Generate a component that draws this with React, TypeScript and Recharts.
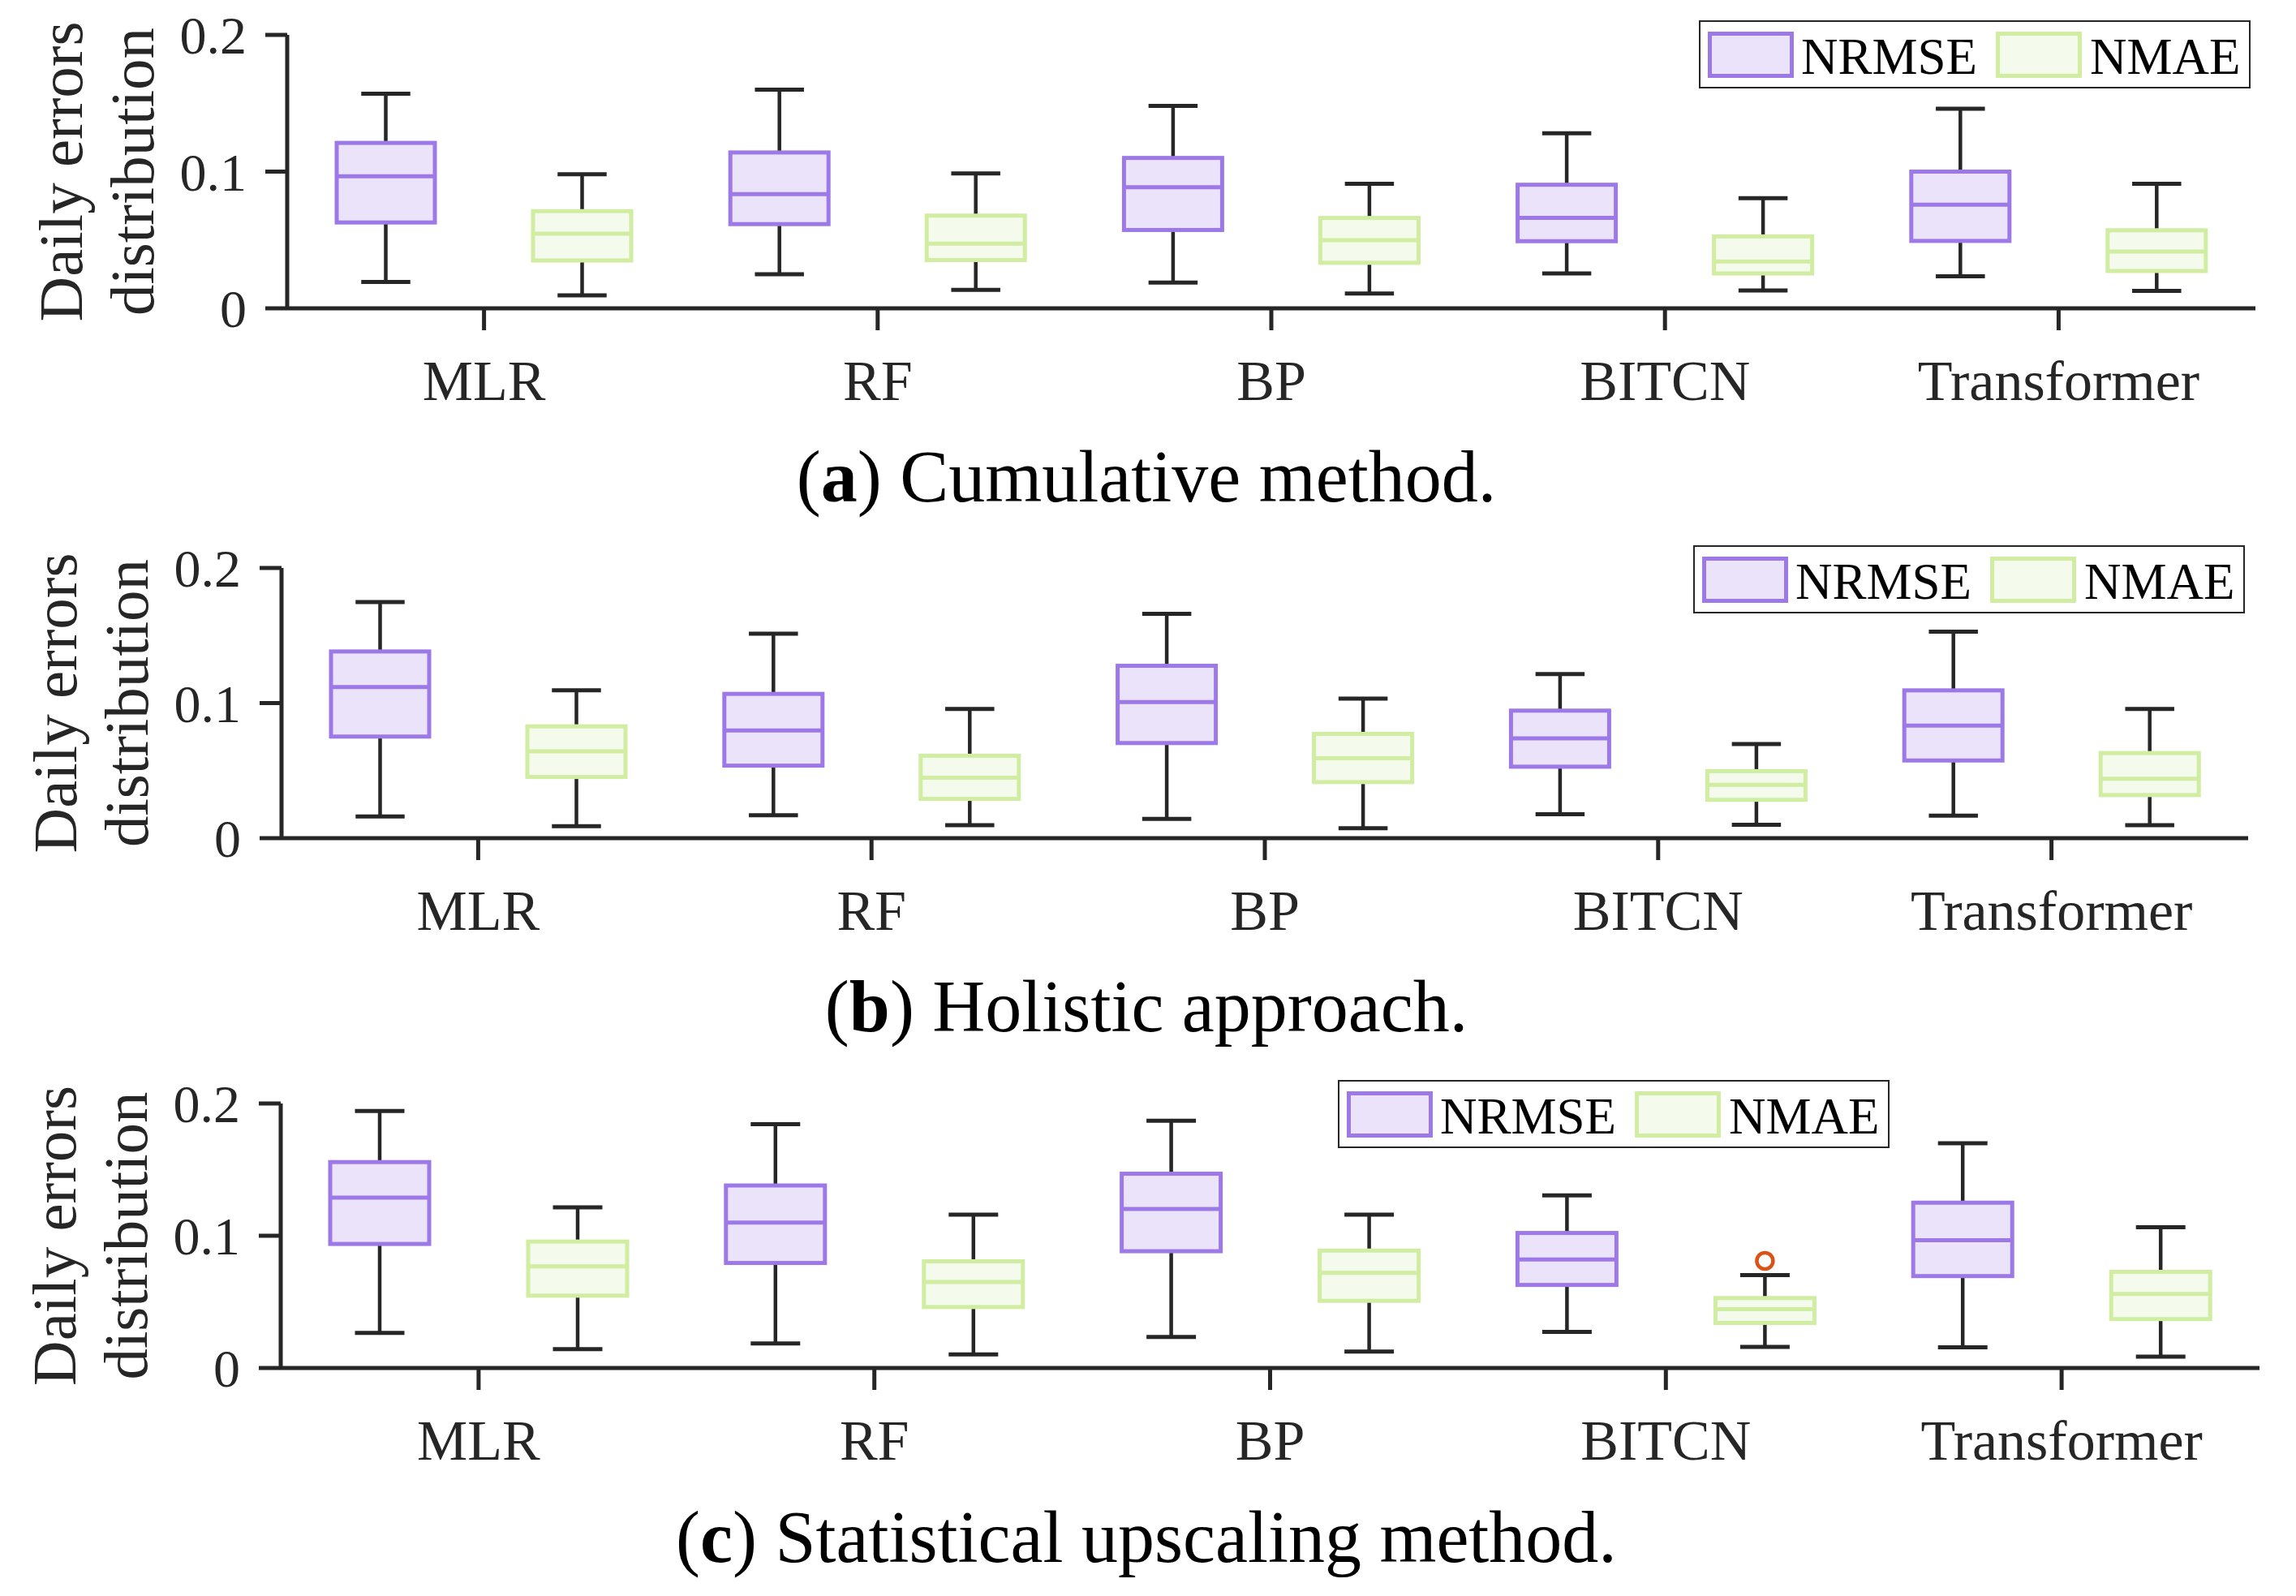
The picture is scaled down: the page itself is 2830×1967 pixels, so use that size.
import React from "react";
import { BarChart, Bar, XAxis, YAxis, Legend } from "recharts";

const categories = ["MLR", "RF", "BP", "BITCN", "Transformer"];
const yTicks = [0, 0.1, 0.2];

// each box: [min, q1, median, q3, max]
const cumulativeNrmse = [
  [0.0193, 0.0628, 0.0966, 0.121, 0.157],
  [0.025, 0.0616, 0.0836, 0.114, 0.16],
  [0.0188, 0.0573, 0.0886, 0.11, 0.148],
  [0.0255, 0.0491, 0.0661, 0.0904, 0.128],
  [0.0235, 0.0493, 0.0758, 0.1, 0.146],
];
const cumulativeNmae = [
  [0.0095, 0.035, 0.0546, 0.0711, 0.0981],
  [0.0135, 0.0353, 0.0473, 0.0678, 0.0986],
  [0.0108, 0.0333, 0.0498, 0.0661, 0.0911],
  [0.013, 0.0255, 0.0343, 0.0526, 0.0806],
  [0.0128, 0.0273, 0.0416, 0.0571, 0.0911],
];

const holisticNrmse = [
  [0.016, 0.0752, 0.1119, 0.1382, 0.1747],
  [0.017, 0.0537, 0.0797, 0.1068, 0.1514],
  [0.0142, 0.0704, 0.1008, 0.1276, 0.1661],
  [0.0177, 0.0529, 0.0739, 0.0944, 0.1215],
  [0.0167, 0.0575, 0.0833, 0.1094, 0.1529],
];
const holisticNmae = [
  [0.0089, 0.0453, 0.0643, 0.0828, 0.1094],
  [0.0096, 0.0291, 0.0448, 0.061, 0.0957],
  [0.0073, 0.0415, 0.0592, 0.0772, 0.1033],
  [0.0099, 0.0284, 0.0395, 0.0496, 0.0696],
  [0.0096, 0.0319, 0.044, 0.063, 0.0957],
];

const statisticalNrmse = [
  [0.0266, 0.0938, 0.1289, 0.1557, 0.1943],
  [0.0185, 0.0794, 0.11, 0.138, 0.1844],
  [0.0234, 0.0883, 0.1203, 0.1469, 0.187],
  [0.0273, 0.0628, 0.082, 0.1021, 0.1305],
  [0.0156, 0.0695, 0.0966, 0.125, 0.17],
];
const statisticalNmae = [
  [0.0143, 0.0547, 0.0768, 0.0956, 0.1214],
  [0.0102, 0.0461, 0.0651, 0.0807, 0.1159],
  [0.0125, 0.0508, 0.0719, 0.0888, 0.1159],
  [0.0159, 0.0341, 0.0445, 0.0529, 0.0703],
  [0.0086, 0.037, 0.056, 0.0727, 0.1065],
];
const statisticalNmaeOutliers = [[], [], [], [0.081], []];
const noOutliers = [[], [], [], [], []];

const INK = "#262626";
const SERIF = "'Liberation Serif', 'Times New Roman', serif";
const PAGE_W = 2830;
const TOP_PAD = 43;
const X_AXIS_H = 150;

const SERIES = [
  { key: "nrmse", name: "NRMSE", stroke: "#9d79e8", fill: "#ebe3fa" },
  { key: "nmae", name: "NMAE", stroke: "#d0eda2", fill: "#f4faec" },
];

const PANELS = [
  {
    id: "a",
    nrmse: cumulativeNrmse,
    nmae: cumulativeNmae,
    nmaeOut: noOutliers,
    plotTop: 43,
    plotBottom: 380,
    axisX: 354,
    plotRight: 2780,
    legendLeft: 2094,
    legendTop: 25,
    tag: "a",
    caption: " Cumulative method.",
    captionY: 618,
  },
  {
    id: "b",
    nrmse: holisticNrmse,
    nmae: holisticNmae,
    nmaeOut: noOutliers,
    plotTop: 700,
    plotBottom: 1033,
    axisX: 347,
    plotRight: 2771,
    legendLeft: 2087,
    legendTop: 672,
    tag: "b",
    caption: " Holistic approach.",
    captionY: 1271,
  },
  {
    id: "c",
    nrmse: statisticalNrmse,
    nmae: statisticalNmae,
    nmaeOut: statisticalNmaeOutliers,
    plotTop: 1360,
    plotBottom: 1686,
    axisX: 346,
    plotRight: 2785,
    legendLeft: 1649,
    legendTop: 1331,
    tag: "c",
    caption: " Statistical upscaling method.",
    captionY: 1925,
  },
];

function BoxShape(props: any) {
  const { x, y, width, height, payload, seriesKey, stroke, fill } = props;
  const stats: number[] = payload[seriesKey];
  const outliers: number[] = payload[seriesKey + "Out"] || [];
  const lo = stats[0];
  const hi = stats[4];
  const top = Math.min(y, y + height);
  const bottom = Math.max(y, y + height);
  // pixel position from the bar's own scaled extent (min..max)
  const py = (v: number) => bottom - ((v - lo) / (hi - lo)) * (bottom - top);
  const cx = x + width / 2;
  const cap = width / 4;
  const q1 = py(stats[1]);
  const med = py(stats[2]);
  const q3 = py(stats[3]);
  return (
    <g>
      <line x1={cx} x2={cx} y1={py(hi)} y2={q3} stroke={INK} strokeWidth={4.5} />
      <line x1={cx} x2={cx} y1={q1} y2={py(lo)} stroke={INK} strokeWidth={4.5} />
      <line x1={cx - cap} x2={cx + cap} y1={py(hi)} y2={py(hi)} stroke={INK} strokeWidth={5} />
      <line x1={cx - cap} x2={cx + cap} y1={py(lo)} y2={py(lo)} stroke={INK} strokeWidth={5} />
      <rect x={x} y={q3} width={width} height={q1 - q3} fill={fill} stroke={stroke} strokeWidth={5} />
      <line x1={x} x2={x + width} y1={med} y2={med} stroke={stroke} strokeWidth={5} />
      {outliers.map((o, i) => (
        <circle key={i} cx={cx} cy={py(o)} r={10} fill="none" stroke="#d95319" strokeWidth={4.5} />
      ))}
    </g>
  );
}

function YLabel({ axisX, cy }: { axisX: number; cy: number }) {
  const style = { fontFamily: SERIF, fontSize: 77, fill: INK };
  return (
    <g>
      <text transform={`translate(${axisX - 253},${cy}) rotate(-90)`} textAnchor="middle" style={style}>
        Daily errors
      </text>
      <text transform={`translate(${axisX - 165},${cy}) rotate(-90)`} textAnchor="middle" style={style}>
        distribution
      </text>
    </g>
  );
}

function LegendBox() {
  const slots = [
    { swatch: 11, text: 126 },
    { swatch: 366, text: 482 },
  ];
  return (
    <div
      style={{
        position: "relative",
        width: 680,
        height: 84,
        boxSizing: "border-box",
        border: `2px solid ${INK}`,
        background: "#fff",
      }}
    >
      {SERIES.map((s, i) => (
        <React.Fragment key={s.key}>
          <div
            style={{
              position: "absolute",
              left: slots[i].swatch - 2,
              top: 12,
              width: 106,
              height: 57,
              boxSizing: "border-box",
              border: `5px solid ${s.stroke}`,
              background: s.fill,
            }}
          />
          <div
            style={{
              position: "absolute",
              left: slots[i].text - 2,
              top: 12,
              fontFamily: SERIF,
              fontSize: 63,
              lineHeight: "63px",
              color: "#000",
              whiteSpace: "nowrap",
            }}
          >
            {s.name}
          </div>
        </React.Fragment>
      ))}
    </div>
  );
}

function Panel({ p }: { p: (typeof PANELS)[number] }) {
  const rows = categories.map((name, i) => ({
    name,
    nrmse: p.nrmse[i],
    nmae: p.nmae[i],
    nmaeOut: p.nmaeOut[i],
  }));
  const plotH = p.plotBottom - p.plotTop;
  const chartH = TOP_PAD + plotH + X_AXIS_H;
  const band = (p.plotRight - p.axisX) / categories.length;
  const barSize = Math.round(band / 4);
  const chartTop = p.plotTop - TOP_PAD;
  return (
    <div style={{ position: "absolute", left: 0, top: chartTop, width: PAGE_W, height: chartH }}>
      <BarChart
        width={PAGE_W}
        height={chartH}
        data={rows}
        margin={{ top: TOP_PAD, right: PAGE_W - p.plotRight, bottom: 0, left: 0 }}
        barSize={barSize}
        barGap={barSize}
      >
        <XAxis
          dataKey="name"
          height={X_AXIS_H}
          interval={0}
          tickSize={27}
          tickMargin={36}
          axisLine={{ stroke: INK, strokeWidth: 5 }}
          tickLine={{ stroke: INK, strokeWidth: 5 }}
          tick={{ fontFamily: SERIF, fontSize: 70, fill: INK }}
        />
        <YAxis
          type="number"
          domain={[0, 0.2]}
          ticks={yTicks}
          width={p.axisX}
          tickSize={27}
          tickMargin={23}
          tickFormatter={(v) => String(v)}
          axisLine={{ stroke: INK, strokeWidth: 5 }}
          tickLine={{ stroke: INK, strokeWidth: 5 }}
          tick={{ fontFamily: SERIF, fontSize: 66, fill: INK }}
          label={<YLabel axisX={p.axisX} cy={TOP_PAD + plotH / 2} />}
        />
        <Legend
          layout="vertical"
          align="center"
          verticalAlign="middle"
          wrapperStyle={{ left: p.legendLeft, top: p.legendTop - chartTop, width: 680, height: 84 }}
          content={() => <LegendBox />}
        />
        {SERIES.map((s) => (
          <Bar
            key={s.key}
            name={s.name}
            dataKey={(d: any) => [d[s.key][0], d[s.key][4]]}
            fill={s.fill}
            isAnimationActive={false}
            shape={(props: any) => (
              <BoxShape {...props} seriesKey={s.key} stroke={s.stroke} fill={s.fill} />
            )}
          />
        ))}
      </BarChart>
    </div>
  );
}

export default function App() {
  return (
    <div
      style={{
        position: "absolute",
        left: 0,
        top: 0,
        width: PAGE_W,
        height: 1967,
        background: "#fff",
        overflow: "hidden",
      }}
    >
      {PANELS.map((p) => (
        <Panel key={p.id} p={p} />
      ))}
      <svg
        width={PAGE_W}
        height={1967}
        style={{ position: "absolute", left: 0, top: 0, pointerEvents: "none" }}
      >
        {PANELS.map((p) => (
          <text
            key={p.id}
            x={1413}
            y={p.captionY}
            textAnchor="middle"
            style={{ fontFamily: SERIF, fontSize: 90, fill: "#000" }}
          >
            (<tspan fontWeight="bold">{p.tag}</tspan>){p.caption}
          </text>
        ))}
      </svg>
    </div>
  );
}
